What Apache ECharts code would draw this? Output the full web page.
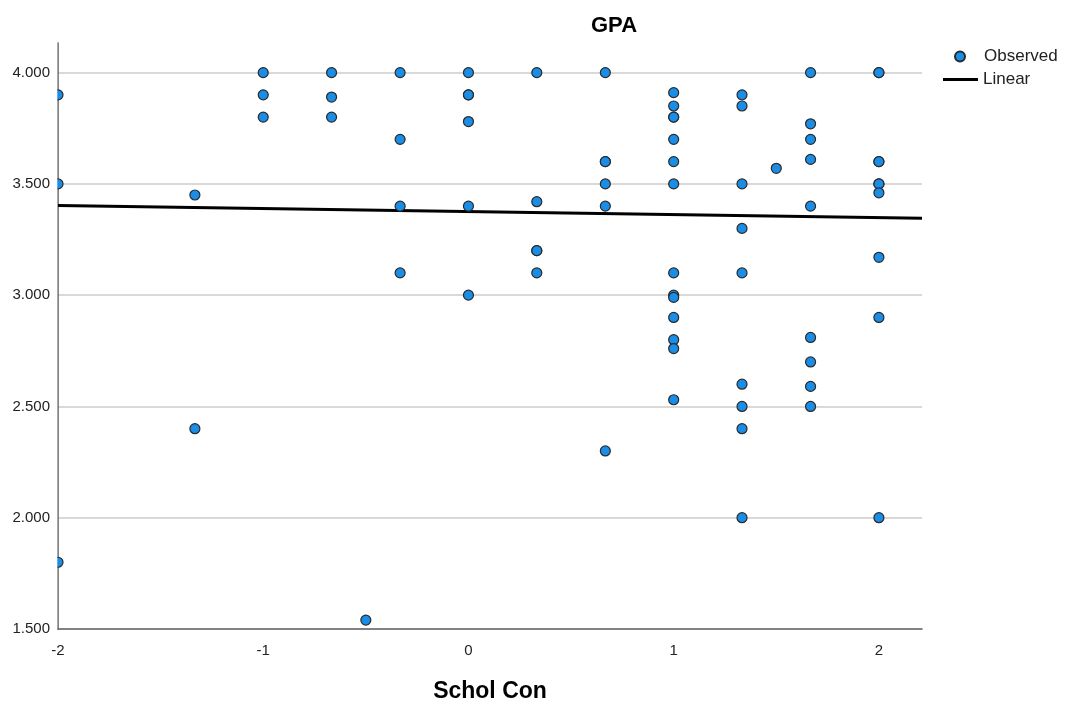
<!DOCTYPE html>
<html>
<head>
<meta charset="utf-8">
<script src="https://cdn.jsdelivr.net/npm/echarts@6/dist/echarts.min.js"></script>
<style>
  html, body { margin: 0; padding: 0; background: #fff; }
  #chart { width: 1066px; height: 704px; }
</style>
</head>
<body>
<div id="chart"></div>
<script>
// Observed cases: School Connectedness score vs GPA
const scholCon = [
  -2, -2, -2,
  -1.333, -1.333,
  -1, -1, -1,
  -0.667, -0.667, -0.667,
  -0.5,
  -0.333, -0.333, -0.333, -0.333,
  0, 0, 0, 0, 0, 0,
  0.333, 0.333, 0.333, 0.333, 0.333,
  0.667, 0.667, 0.667, 0.667, 0.667, 0.667,
  1, 1, 1, 1, 1, 1, 1, 1, 1, 1, 1, 1, 1, 1,
  1.333, 1.333, 1.333, 1.333, 1.333, 1.333, 1.333, 1.333, 1.333,
  1.5,
  1.667, 1.667, 1.667, 1.667, 1.667, 1.667, 1.667, 1.667, 1.667,
  2, 2, 2, 2, 2, 2, 2, 2, 2, 2
];
const gpa = [
  3.9, 3.5, 1.8,
  3.45, 2.4,
  4.0, 3.9, 3.8,
  4.0, 3.89, 3.8,
  1.54,
  4.0, 3.7, 3.4, 3.1,
  4.0, 3.9, 3.9, 3.78, 3.4, 3.0,
  4.0, 3.42, 3.2, 3.2, 3.1,
  4.0, 3.6, 3.6, 3.5, 3.4, 2.3,
  3.91, 3.85, 3.8, 3.8, 3.7, 3.6, 3.5, 3.1, 3.0, 2.99, 2.9, 2.8, 2.76, 2.53,
  3.9, 3.85, 3.5, 3.3, 3.1, 2.6, 2.5, 2.4, 2.0,
  3.57,
  4.0, 3.77, 3.7, 3.61, 3.4, 2.81, 2.7, 2.59, 2.5,
  4.0, 4.0, 3.6, 3.6, 3.5, 3.5, 3.46, 3.17, 2.9, 2.0
];
// Fitted linear model, evaluated at the ends of the x range
const fitX = [-2, 2.21];
const fitY = [3.403, 3.346];

const xMin = -2, xMax = 2.21, xStep = 1;
const yMin = 1.5, yMax = 4.133, yStep = 0.5;

const FONT = "'Liberation Sans', Arial, sans-serif";
const GRID = { left: 58, right: 144, top: 43, bottom: 75 };

const chart = echarts.init(document.getElementById('chart'), null, { renderer: 'canvas' });

chart.setOption({
  backgroundColor: '#ffffff',
  animation: false,
  textStyle: { fontFamily: FONT },
  title: {
    text: 'GPA',
    left: 586,
    top: 10,
    textStyle: { fontFamily: FONT, fontSize: 22, fontWeight: 'bold', color: '#000' }
  },
  legend: [
    {
      data: [{ name: 'Observed', icon: 'circle' }],
      orient: 'vertical',
      left: 949, top: 43,
      itemWidth: 38, itemHeight: 10,
      textStyle: { fontFamily: FONT, fontSize: 17, color: '#222' },
      selectedMode: false
    },
    {
      data: [{ name: 'Linear', icon: 'rect' }],
      orient: 'vertical',
      left: 938, top: 66,
      itemWidth: 35, itemHeight: 3,
      textStyle: { fontFamily: FONT, fontSize: 17, color: '#222' },
      selectedMode: false
    }
  ],
  grid: Object.assign({ outerBoundsMode: 'none', containLabel: false }, GRID),
  xAxis: {
    type: 'value',
    min: xMin, max: xMax, interval: xStep,
    name: 'Schol Con',
    nameLocation: 'middle',
    nameGap: 51,
    nameMoveOverlap: false,
    nameTextStyle: { fontFamily: FONT, fontSize: 23, fontWeight: 'bold', color: '#000' },
    axisLine: { show: true, onZero: false, lineStyle: { color: '#5a5a5a', width: 1.5 } },
    axisTick: { show: false },
    splitLine: { show: false },
    axisLabel: {
      fontFamily: FONT, fontSize: 15, color: '#222', margin: 14,
      showMaxLabel: false,
      formatter: v => String(Math.round(v))
    }
  },
  yAxis: {
    type: 'value',
    min: yMin, max: yMax, interval: yStep,
    axisLine: { show: true, onZero: false, lineStyle: { color: '#5a5a5a', width: 1.5 } },
    axisTick: { show: false },
    splitLine: { show: true, showMinLine: false, showMaxLine: false, lineStyle: { color: '#cccccc', width: 1.5 } },
    axisLabel: {
      fontFamily: FONT, fontSize: 15, color: '#222', margin: 8,
      showMaxLabel: false,
      formatter: v => v.toFixed(3)
    }
  },
  // thin white strip left of the plot so edge markers are cut at the y axis
  graphic: [{
    type: 'rect',
    z: 5,
    silent: true,
    shape: { x: GRID.left - 6.5, y: GRID.top, width: 5.8, height: 704 - GRID.top - GRID.bottom },
    style: { fill: '#ffffff' }
  }],
  series: [
    {
      name: 'Observed',
      type: 'scatter',
      z: 3,
      symbol: 'circle',
      symbolSize: 10,
      itemStyle: { color: '#1a8de6', borderColor: '#2a2a2a', borderWidth: 1.2, opacity: 1 },
      data: scholCon.map((x, i) => [x, gpa[i]])
    },
    {
      name: 'Linear',
      type: 'line',
      z: 2,
      symbol: 'none',
      lineStyle: { color: '#000000', width: 3 },
      itemStyle: { color: '#000000' },
      data: fitX.map((x, i) => [x, fitY[i]])
    }
  ]
});
</script>
</body>
</html>
